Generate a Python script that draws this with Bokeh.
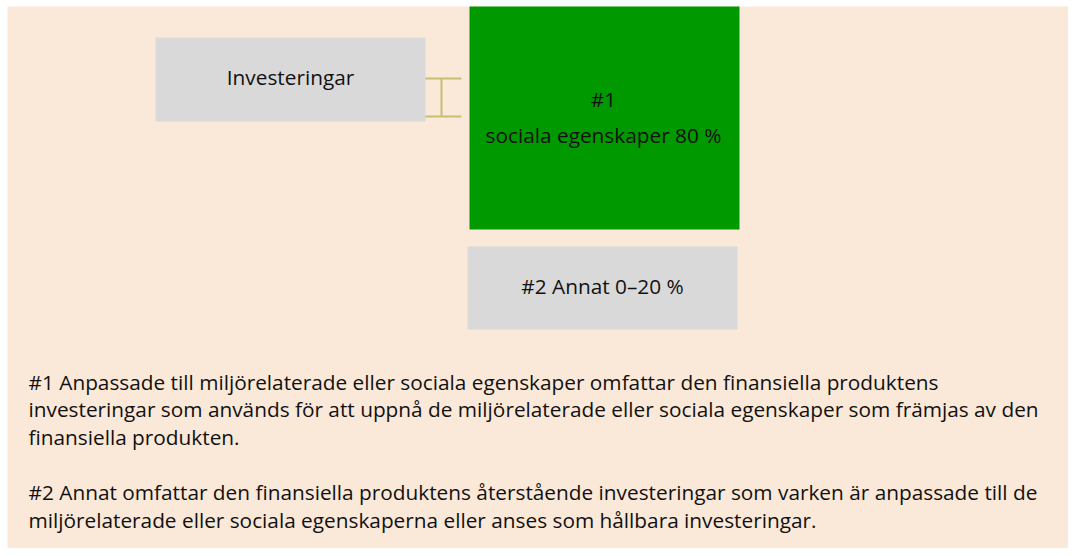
from bokeh.plotting import figure
from bokeh.models import Range1d, ColumnDataSource
from bokeh.core.properties import value
from bokeh.embed import file_html
from bokeh.resources import INLINE

# ---- content ----
box_names = ["Investeringar", "#1", "#2"]
box_labels = [["Investeringar"], ["#1", "sociala egenskaper 80 %"], ["#2 Annat 0–20 %"]]
box_colors = ["#D9D9D9", "#009900", "#D9D9D9"]
footnotes = [
    "#1 Anpassade till miljörelaterade eller sociala egenskaper omfattar den finansiella produktens",
    "investeringar som används för att uppnå de miljörelaterade eller sociala egenskaper som främjas av den",
    "finansiella produkten.",
    "",
    "#2 Annat omfattar den finansiella produktens återstående investeringar som varken är anpassade till de",
    "miljörelaterade eller sociala egenskaperna eller anses som hållbara investeringar.",
]

# ---- layout (page pixels) ----
OX, OY = 7, 6            # where the beige panel starts on the page
W, H = 1068, 548         # figure size incl. the small white left/top border
FW, FH = W - OX, H - OY  # panel size
BG = "#FAE8D8"
FONT = "Open Sans"
FS_BOX = "20.8px"
FS_NOTE = "20.8px"

# box extents in page px: left, right, top, bottom
box_geom = [(155, 425, 37, 121), (469, 739, 0, 229), (467, 737, 246, 329)]

p = figure(width=W, height=H, x_range=Range1d(0, FW), y_range=Range1d(FH, 0),
           output_backend="svg", toolbar_location=None,
           min_border_left=OX, min_border_top=OY, min_border_right=0, min_border_bottom=0,
           background_fill_color=BG, border_fill_color="white", outline_line_color=None)
p.axis.visible = False
p.grid.visible = False

src = ColumnDataSource(dict(
    left=[g[0] - OX for g in box_geom], right=[g[1] - OX for g in box_geom],
    top=[g[2] - OY for g in box_geom], bottom=[g[3] - OY for g in box_geom],
    color=box_colors, name=box_names))
p.quad(left="left", right="right", top="top", bottom="bottom", fill_color="color",
       line_color=None, source=src)

# bracket connector
bc = "#C8BE72"
p.segment(x0=[425 - OX, 425 - OX, 441 - OX], y0=[78 - OY, 116 - OY, 78 - OY],
          x1=[461 - OX, 461 - OX, 441 - OX], y1=[78 - OY, 116 - OY, 116 - OY],
          line_color=bc, line_width=2)

# box labels
lx, ly, lt = [], [], []
centers = [(290, [76]), (603, [98, 134]), (602, [285])]
for (cx, ys), labs in zip(centers, box_labels):
    for yy, t in zip(ys, labs):
        lx.append(cx - OX); ly.append(yy - OY); lt.append(t)
p.text(x=lx, y=ly, text=lt, text_align="center", text_baseline="middle",
       text_font=value(FONT), text_font_size=FS_BOX, text_color="#111111")

# footnotes
fy0, fdy = 381, 27.6
fx, fyv, ft = [], [], []
for i, t in enumerate(footnotes):
    if t:
        fx.append(28 - OX); fyv.append(fy0 + i * fdy - OY); ft.append(t)
p.text(x=fx, y=fyv, text=ft, text_align="left", text_baseline="middle",
       text_font=value(FONT), text_font_size=FS_NOTE, text_color="#111111")

open("out.html", "w").write(file_html(p, INLINE))
